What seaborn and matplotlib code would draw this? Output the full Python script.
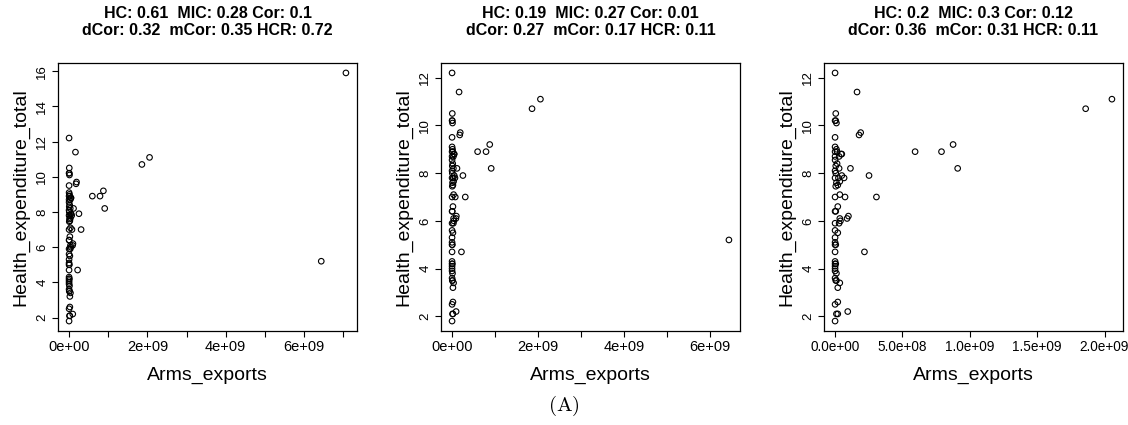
import numpy as np
import pandas as pd
import matplotlib
matplotlib.use("Agg")
import matplotlib.pyplot as plt
import seaborn as sns

# ---------------- data ----------------
# main cluster (Arms_exports in units of 1e8, Health_expenditure_total)
cluster_arms_1e8 = [0.0, 1.63, 0.05, 0.0, 0.05, 0.1, 1.78, 1.9, 0.0, 0.0,
                    0.1, 0.0, 0.15, 0.45, 0.3, 0.5, 0.0, 0.15, 0.05, 0.3,
                    0.0, 1.14, 2.52, 0.5, 0.67, 0.0, 0.25, 0.35, 0.2, 0.05,
                    0.74, 0.35, 0.0, 3.07, 0.2, 0.0, 0.05, 0.99, 0.89, 0.35,
                    0.4, 0.3, 0.0, 0.0, 0.2, 0.0, 0.0, 0.0, 0.05, 0.0,
                    2.18, 0.0, 0.05, 0.0, 0.0, 0.0, 0.1, 0.0, 0.05, 0.35,
                    0.2, 0.2, 0.0, 0.1, 0.2, 0.94, 0.0, 5.94, 7.9, 8.76,
                    9.1, 18.6, 20.55, 0.0, 0.1, 0.05, 0.1, 0.0]
cluster_health = [12.2, 11.4, 10.5, 10.2, 10.2, 10.1, 9.6, 9.7, 9.5, 9.1,
                  9.0, 8.9, 8.9, 8.8, 8.7, 8.8, 8.55, 8.4, 8.3, 8.2,
                  8.1, 8.2, 7.9, 7.9, 7.8, 7.8, 7.8, 7.65, 7.5, 7.45,
                  7.0, 7.1, 7.0, 7.0, 6.6, 6.4, 6.4, 6.2, 6.1, 6.1,
                  6.0, 5.9, 5.9, 5.6, 5.5, 5.3, 5.1, 5.0, 5.0, 4.7,
                  4.7, 4.3, 4.2, 4.1, 4.0, 3.9, 3.8, 3.6, 3.5, 3.4,
                  3.2, 2.6, 2.5, 2.1, 2.1, 2.2, 1.8, 8.9, 8.9, 9.2,
                  8.2, 10.7, 11.1, 8.7, 7.6, 8.0, 3.5, 4.2]
# outliers dropped step by step
outlier_low_arms = 6.44e9
outlier_low_health = 5.2
outlier_top_arms = 7.07e9
outlier_top_health = 15.9

titles = [
    "HC: 0.61  MIC: 0.28 Cor: 0.1\ndCor: 0.32  mCor: 0.35 HCR: 0.72",
    "HC: 0.19  MIC: 0.27 Cor: 0.01\ndCor: 0.27  mCor: 0.17 HCR: 0.11",
    "HC: 0.2  MIC: 0.3 Cor: 0.12\ndCor: 0.36  mCor: 0.31 HCR: 0.11",
]
xticks_p1 = [0, 1e9, 2e9, 3e9, 4e9, 5e9, 6e9, 7e9]
xlabels_p1 = ["0e+00", "", "2e+09", "", "4e+09", "", "6e+09", ""]
xticks_p2 = [0, 1e9, 2e9, 3e9, 4e9, 5e9, 6e9]
xlabels_p2 = ["0e+00", "", "2e+09", "", "4e+09", "", "6e+09"]
xticks_p3 = [0, 5e8, 1e9, 1.5e9, 2e9]
xlabels_p3 = ["0.0e+00", "5.0e+08", "1.0e+09", "1.5e+09", "2.0e+09"]
yticks_p1 = [2, 4, 6, 8, 10, 12, 14, 16]
yticks_p23 = [2, 4, 6, 8, 10, 12]
xlabel = "Arms_exports"
ylabel = "Health_expenditure_total"
caption = "(A)"

# ---------------- frames ----------------
base = pd.DataFrame({"Arms_exports": np.array(cluster_arms_1e8) * 1e8,
                     "Health_expenditure_total": cluster_health})
df3 = base
df2 = pd.concat([base, pd.DataFrame({"Arms_exports": [outlier_low_arms],
                                     "Health_expenditure_total": [outlier_low_health]})],
                ignore_index=True)
df1 = pd.concat([df2, pd.DataFrame({"Arms_exports": [outlier_top_arms],
                                    "Health_expenditure_total": [outlier_top_health]})],
                ignore_index=True)

sns.set_style("white")
plt.rcParams["font.family"] = ["Liberation Sans", "DejaVu Sans"]
plt.rcParams["mathtext.fontset"] = "cm"
for k in ["text.color", "axes.labelcolor", "xtick.color", "ytick.color"]:
    plt.rcParams[k] = "black"

W, H = 1128, 425
fig = plt.figure(figsize=(W / 100, H / 100), dpi=100)

lefts = [58, 441, 824]
aw = 299
top, bottom = 63, 331

panels = [
    (df1, xticks_p1, xlabels_p1, yticks_p1, 10.5),
    (df2, xticks_p2, xlabels_p2, yticks_p23, 10.5),
    (df3, xticks_p3, xlabels_p3, yticks_p23, 9.8),
]

for i, (df, xt, xl, yt, xfs) in enumerate(panels):
    ax = fig.add_axes([lefts[i] / W, 1 - bottom / H, aw / W, (bottom - top) / H])
    sns.scatterplot(data=df, x="Arms_exports", y="Health_expenditure_total",
                    ax=ax, marker="o", s=16, linewidth=0.8, legend=False)
    coll = ax.collections[0]
    coll.set_facecolor("none")
    coll.set_edgecolor("black")
    # R-style 4% padding
    x = df["Arms_exports"]
    y = df["Health_expenditure_total"]
    xr = x.max() - x.min()
    yr = y.max() - y.min()
    ax.set_xlim(x.min() - 0.04 * xr, x.max() + 0.04 * xr)
    ax.set_ylim(y.min() - 0.04 * yr, y.max() + 0.04 * yr)
    ax.set_xticks(xt)
    ax.set_xticklabels(xl, fontsize=xfs)
    ax.set_yticks(yt)
    ax.set_yticklabels([str(v) for v in yt], fontsize=9.5, rotation=90, va="center")
    ax.tick_params(axis="both", direction="out", length=4, width=0.8,
                   color="black", bottom=True, left=True)
    ax.tick_params(axis="x", pad=2.5)
    ax.tick_params(axis="y", pad=3)
    for sp in ax.spines.values():
        sp.set_visible(True)
        sp.set_color("black")
        sp.set_linewidth(0.9)
    ax.set_xlabel(xlabel, fontsize=14, labelpad=9)
    ax.set_ylabel(ylabel, fontsize=14, labelpad=5)
    ax.set_title(titles[i], fontsize=11.5, fontweight="bold", pad=20, linespacing=1.2)

fig.text(0.5, 1 - 406 / H, r"$\mathrm{(A)}$", ha="center", va="center", fontsize=15)

fig.savefig("out.png", dpi=100)
